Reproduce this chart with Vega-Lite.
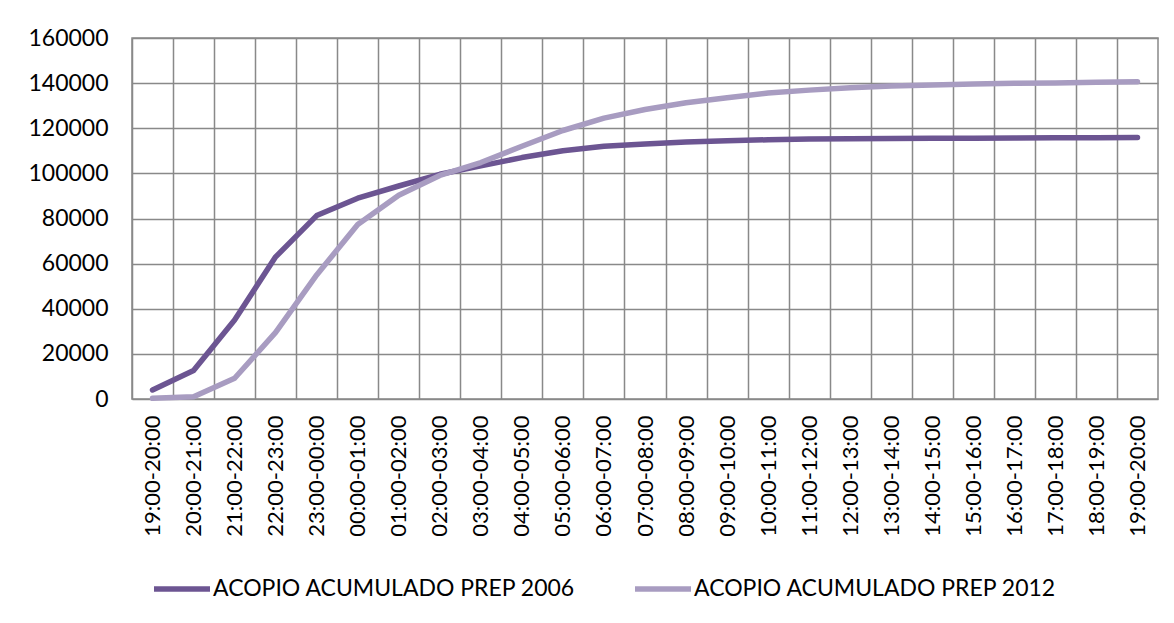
{
  "$schema": "https://vega.github.io/schema/vega-lite/v6.json",
  "width": 1026,
  "height": 361,
  "autosize": {"type": "none"},
  "padding": {"left": 132, "top": 38, "right": 16, "bottom": 224},
  "background": "white",
  "config": {
    "font": "Lato",
    "view": {"stroke": "#898989", "strokeWidth": 1.5},
    "axis": {"labelFont": "Lato", "labelColor": "#000000", "gridColor": "#898989", "gridWidth": 1.5, "gridOpacity": 1, "domain": false, "ticks": false}
  },
  "data": {
    "values": [
      {"hora": "19:00-20:00", "serie": "ACOPIO ACUMULADO PREP 2006", "valor": 4000},
      {"hora": "20:00-21:00", "serie": "ACOPIO ACUMULADO PREP 2006", "valor": 12600},
      {"hora": "21:00-22:00", "serie": "ACOPIO ACUMULADO PREP 2006", "valor": 35000},
      {"hora": "22:00-23:00", "serie": "ACOPIO ACUMULADO PREP 2006", "valor": 63000},
      {"hora": "23:00-00:00", "serie": "ACOPIO ACUMULADO PREP 2006", "valor": 81300},
      {"hora": "00:00-01:00", "serie": "ACOPIO ACUMULADO PREP 2006", "valor": 89000},
      {"hora": "01:00-02:00", "serie": "ACOPIO ACUMULADO PREP 2006", "valor": 94400},
      {"hora": "02:00-03:00", "serie": "ACOPIO ACUMULADO PREP 2006", "valor": 99600},
      {"hora": "03:00-04:00", "serie": "ACOPIO ACUMULADO PREP 2006", "valor": 103300},
      {"hora": "04:00-05:00", "serie": "ACOPIO ACUMULADO PREP 2006", "valor": 107000},
      {"hora": "05:00-06:00", "serie": "ACOPIO ACUMULADO PREP 2006", "valor": 110000},
      {"hora": "06:00-07:00", "serie": "ACOPIO ACUMULADO PREP 2006", "valor": 112000},
      {"hora": "07:00-08:00", "serie": "ACOPIO ACUMULADO PREP 2006", "valor": 113000},
      {"hora": "08:00-09:00", "serie": "ACOPIO ACUMULADO PREP 2006", "valor": 113900},
      {"hora": "09:00-10:00", "serie": "ACOPIO ACUMULADO PREP 2006", "valor": 114500},
      {"hora": "10:00-11:00", "serie": "ACOPIO ACUMULADO PREP 2006", "valor": 114900},
      {"hora": "11:00-12:00", "serie": "ACOPIO ACUMULADO PREP 2006", "valor": 115200},
      {"hora": "12:00-13:00", "serie": "ACOPIO ACUMULADO PREP 2006", "valor": 115350},
      {"hora": "13:00-14:00", "serie": "ACOPIO ACUMULADO PREP 2006", "valor": 115450},
      {"hora": "14:00-15:00", "serie": "ACOPIO ACUMULADO PREP 2006", "valor": 115550},
      {"hora": "15:00-16:00", "serie": "ACOPIO ACUMULADO PREP 2006", "valor": 115600},
      {"hora": "16:00-17:00", "serie": "ACOPIO ACUMULADO PREP 2006", "valor": 115700},
      {"hora": "17:00-18:00", "serie": "ACOPIO ACUMULADO PREP 2006", "valor": 115750},
      {"hora": "18:00-19:00", "serie": "ACOPIO ACUMULADO PREP 2006", "valor": 115800},
      {"hora": "19:00-20:00\u200b", "serie": "ACOPIO ACUMULADO PREP 2006", "valor": 115900},
      {"hora": "19:00-20:00", "serie": "ACOPIO ACUMULADO PREP 2012", "valor": 300},
      {"hora": "20:00-21:00", "serie": "ACOPIO ACUMULADO PREP 2012", "valor": 1000},
      {"hora": "21:00-22:00", "serie": "ACOPIO ACUMULADO PREP 2012", "valor": 9200},
      {"hora": "22:00-23:00", "serie": "ACOPIO ACUMULADO PREP 2012", "valor": 29500},
      {"hora": "23:00-00:00", "serie": "ACOPIO ACUMULADO PREP 2012", "valor": 55000},
      {"hora": "00:00-01:00", "serie": "ACOPIO ACUMULADO PREP 2012", "valor": 77300},
      {"hora": "01:00-02:00", "serie": "ACOPIO ACUMULADO PREP 2012", "valor": 90300},
      {"hora": "02:00-03:00", "serie": "ACOPIO ACUMULADO PREP 2012", "valor": 99100},
      {"hora": "03:00-04:00", "serie": "ACOPIO ACUMULADO PREP 2012", "valor": 104800},
      {"hora": "04:00-05:00", "serie": "ACOPIO ACUMULADO PREP 2012", "valor": 112000},
      {"hora": "05:00-06:00", "serie": "ACOPIO ACUMULADO PREP 2012", "valor": 119000},
      {"hora": "06:00-07:00", "serie": "ACOPIO ACUMULADO PREP 2012", "valor": 124500},
      {"hora": "07:00-08:00", "serie": "ACOPIO ACUMULADO PREP 2012", "valor": 128300},
      {"hora": "08:00-09:00", "serie": "ACOPIO ACUMULADO PREP 2012", "valor": 131300},
      {"hora": "09:00-10:00", "serie": "ACOPIO ACUMULADO PREP 2012", "valor": 133500},
      {"hora": "10:00-11:00", "serie": "ACOPIO ACUMULADO PREP 2012", "valor": 135600},
      {"hora": "11:00-12:00", "serie": "ACOPIO ACUMULADO PREP 2012", "valor": 136900},
      {"hora": "12:00-13:00", "serie": "ACOPIO ACUMULADO PREP 2012", "valor": 138000},
      {"hora": "13:00-14:00", "serie": "ACOPIO ACUMULADO PREP 2012", "valor": 138700},
      {"hora": "14:00-15:00", "serie": "ACOPIO ACUMULADO PREP 2012", "valor": 139200},
      {"hora": "15:00-16:00", "serie": "ACOPIO ACUMULADO PREP 2012", "valor": 139600},
      {"hora": "16:00-17:00", "serie": "ACOPIO ACUMULADO PREP 2012", "valor": 139900},
      {"hora": "17:00-18:00", "serie": "ACOPIO ACUMULADO PREP 2012", "valor": 140100},
      {"hora": "18:00-19:00", "serie": "ACOPIO ACUMULADO PREP 2012", "valor": 140400},
      {"hora": "19:00-20:00\u200b", "serie": "ACOPIO ACUMULADO PREP 2012", "valor": 140600}
    ]
  },
  "mark": {"type": "line", "strokeWidth": 5.5, "strokeCap": "round", "strokeJoin": "round"},
  "encoding": {
    "x": {
      "field": "hora",
      "type": "ordinal",
      "sort": null,
      "scale": {"type": "point", "padding": 0.5},
      "axis": {
        "title": null,
        "grid": true,
        "labelAngle": 270,
        "labelFontSize": 22,
        "labelPadding": 16,
        "tickOffset": -20.52,
        "labelOffset": 20.52,
        "labelBaseline": "middle",
        "labelAlign": "right"
      }
    },
    "y": {
      "field": "valor",
      "type": "quantitative",
      "scale": {"domain": [0, 160000], "nice": false},
      "axis": {
        "title": null,
        "values": [0, 20000, 40000, 60000, 80000, 100000, 120000, 140000, 160000],
        "format": "d",
        "labelFontSize": 23,
        "labelPadding": 24
      }
    },
    "color": {
      "field": "serie",
      "type": "nominal",
      "scale": {
        "domain": ["ACOPIO ACUMULADO PREP 2006", "ACOPIO ACUMULADO PREP 2012"],
        "range": ["#6C5592", "#A89CC1"]
      },
      "legend": {
        "title": null,
        "orient": "none",
        "direction": "horizontal",
        "legendX": 19,
        "legendY": 520,
        "symbolType": "stroke",
        "symbolSize": 3136,
        "symbolStrokeWidth": 5.5,
        "labelFont": "Lato",
        "labelFontSize": 23,
        "labelColor": "#000000",
        "labelLimit": 600,
        "labelOffset": 0,
        "columnPadding": 48
      }
    }
  }
}
